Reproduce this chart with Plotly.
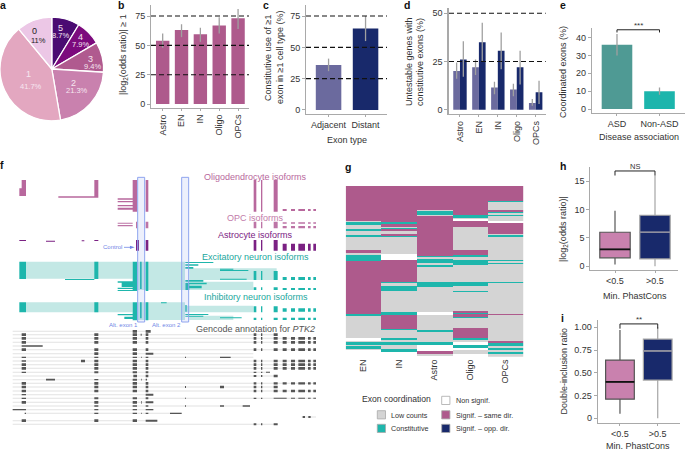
import plotly.graph_objects as go

W, H = 685, 450
FONT = "Liberation Sans"
TXT = "#333333"
AX = "#a9a9a9"
ERR = "#a0a0a0"
SAME = "#ae5a8c"
LOW = "#d4d4d4"
CONST = "#1eb6ac"
NAVY = "#18296b"
SLATE = "#6b6a9e"
LTPINK = "#c981ae"

# a
pie_labels = ["5", "4", "3", "2", "1", "0"]
pie_values = [8.7, 7.9, 9.4, 21.3, 41.7, 11]
pie_text = ["8.7%", "7.9%", "9.4%", "21.3%", "41.7%", "11%"]
pie_colors = ["#4a0b72", "#7c0a7d", "#b05a8f", "#c981ae", "#e3a7c0", "#ecc7e6"]
# b
cells = ["Astro", "EN", "IN", "Oligo", "OPCs"]
b_vals = [54, 63, 59.5, 67, 73]
b_low = [48, 57, 53, 60, 64]
b_high = [60, 68, 65, 74, 81]
# c
c_cats = ["Adjacent", "Distant"]
c_vals = [36, 65]
c_low = [31, 55]
c_high = [41, 75]
# d
d_adj = [20, 22, 11.5, 10.5, 3.5]
d_adj_low = [16, 18, 8, 7, 2]
d_adj_high = [24.5, 26, 14.5, 13.5, 5.5]
d_dist = [26, 35, 30.5, 22, 9]
d_dist_low = [17, 25, 21, 13, 3]
d_dist_high = [35.5, 45, 40, 30.5, 15]
# e
e_cats = ["ASD", "Non-ASD"]
e_vals = [36, 10]
e_low = [30, 8]
e_high = [42, 12]
# h, i boxes: [low whisker, q1, median, q3, high whisker]
box_cats = ["<0.5", ">0.5"]
h_lo = [0.3, 0.0]
h_q1 = [1.5, 1.3]
h_med = [3, 6]
h_q3 = [6, 9]
h_hi = [9.8, 16]
i_lo = [0.05, 0.0]
i_q1 = [0.21, 0.42]
i_med = [0.40, 0.74]
i_q3 = [0.64, 0.87]
i_hi = [0.97, 1.0]

# g: ordered exons, run ends per cell type
g_cols = ["EN", "IN", "Astro", "Oligo", "OPCs"]
g_rows = 256
EN_ends = [52,54,58,64,67,74,76,96,100,104,112,192,194,228,232,234,238,240,244,246,256]
EN_codes = "SLCLCLCLSLCSCLWLCLCLW"
IN_ends = [54,57,61,63,65,67,72,75,77,102,111,143,145,149,157,189,193,214,216,227,231,234,238,244,248,256]
IN_codes = "SCSLCSLSCLWSCLCLCSCLCLCLCW"
ASTRO_ends = [36,38,43,45,105,107,110,115,119,122,143,151,189,193,215,218,233,238,247,251,254,256]
ASTRO_codes = "SLCLSCLCLCLCLWLCLCWSLW"
OLIGO_ends = [44,48,50,52,62,96,104,107,111,119,143,149,157,159,187,190,192,196,198,213,228,231,234,238,243,246,252,256]
OLIGO_codes = "SCLWSLSCLCLCLCLSCSCLSCLWCWLW"
OPC_ends = [22,24,36,39,41,43,45,53,56,72,74,76,111,113,115,117,143,145,191,193,232,235,239,242,245,248,252,256]
OPC_codes = "SCLSCLCLWSLCLCLCLCLSLSCLCLCL"

# f: exon columns along the gene (zoomed genomic units)
E_RA = [(761, 769), (783, 787), (821, 833)]
E_RB = [(848, 860), (873, 885), (895, 915), (924, 932), (940, 948)]
E_R = E_RA + E_RB

gencode_rows = [
    (79, 38, 452, [(398,411,8),(437,452,8)]),
    (89, 38, 833, [(65,78,8),(283,295,8),(398,411,8),(422,425,6),(437,445,8)] + [(a,b,8) for a,b in E_RA]),
    (100, 38, 948, [(65,78,8),(283,295,8),(398,411,8),(437,445,8)] + [(a,b,8) for a,b in E_R]),
    (112, 38, 948, [(65,78,8),(283,295,8),(398,411,8),(437,445,8)] + [(a,b,8) for a,b in E_R]),
    (123, 38, 128, [(65,128,4)]),
    (134, 38, 948, [(65,78,8),(283,295,8),(398,411,8),(437,445,8)] + [(a,b,8) for a,b in E_R]),
    (146, 38, 760, [(283,295,8),(398,411,8),(437,460,6)]),
    (157, 38, 760, [(65,78,4),(283,295,4),(398,411,4),(423,425,4),(437,445,4),(555,558,4),(660,692,4)]),
    (168, 38, 948, [(65,78,5),(243,255,8),(283,295,8),(398,411,8),(437,445,8)] + [(a,b,8) for a,b in E_R]),
    (179, 38, 948, [(65,78,8),(283,295,8),(398,411,8),(437,445,8)] + [(a,b,8) for a,b in E_R]),
    (190, 38, 948, [(65,78,8),(283,295,8),(398,411,8),(437,445,8)] + [(a,b,8) for a,b in E_R]),
    (202, 38, 810, [(65,78,4),(283,295,6),(398,411,6),(437,445,6),(761,769,4),(783,787,4),(798,810,3)]),
    (213, 38, 833, [(400,411,8),(437,445,8),(761,769,6),(783,787,6),(821,833,8)]),
    (224, 38, 445, [(138,165,5),(283,295,4),(398,411,6),(423,425,5),(437,441,5)]),
    (235, 38, 948, [(65,78,8),(283,295,8),(398,411,8),(437,445,8)] + [(a,b,7) for a,b in E_R]),
    (246, 38, 833, [(65,78,8),(283,295,8),(398,411,8),(437,445,8),(555,558,6),(660,672,7),(761,769,8),(783,787,8),(821,833,8)]),
    (258, 38, 948, [(65,78,8),(283,295,8),(398,411,8),(437,445,8)] + [(a,b,7) for a,b in E_R]),
    (269, 38, 460, [(65,78,4),(437,460,6)]),
    (280, 38, 948, [(65,78,4),(283,295,6),(398,411,6),(437,445,6),(555,558,3),(761,769,4),(783,787,4),(821,860,3),(873,885,3),(895,915,3),(924,932,3),(940,948,3)]),
    (292, 38, 460, [(65,78,8),(283,295,8),(398,411,8),(423,425,8),(437,460,6)]),
    (303, 38, 750, [(283,295,4),(398,411,4),(437,445,4),(555,558,4),(660,672,4),(728,750,4)]),
    (314, 38, 460, [(38,78,4),(283,295,4),(398,411,4),(437,460,4)]),
    (325, 75, 545, [(74,78,4),(283,295,4),(398,411,4),(423,425,4),(437,445,4),(510,545,4)]),
    (336, 905, 948, [(908,915,6),(925,932,6)]),
    (347, 38, 472, [(65,78,8),(283,295,8),(398,411,8),(437,472,6)]),
    (358, 38, 833, [(761,769,6),(783,787,6),(821,833,6)]),
]


def row(spans, y0, y1):
    return [(a, b, y0, y1) for a, b in spans]


oligo_rects = (
    [(65,78,45,70),(58,78,70,93),(38,58,75,77),(283,295,45,98),(175,283,94,98),(398,411,45,140),
     (437,445,45,140),(353,398,100,104),(353,398,108,112),(353,398,120,124),(353,398,128,134),
     (330,353,108,110),(330,353,117,119),(660,672,93,95),(660,672,98,100)]
    + row(E_RA, 45, 140) + row(E_RB, 99, 101) + row(E_RB, 132, 138)
)
opc_rects = (
    [(353,398,173,176),(353,398,180,184),(408,411,170,190),(437,445,170,190)]
    + row(E_RA, 170, 190) + row(E_RB, 172, 176) + row(E_RB, 183, 190)
)
astro_rects = (
    [(58,78,225,228),(138,165,227,230),(245,253,226,229),(283,295,225,228),(330,408,231,233),
     (408,417,225,257),(437,445,225,257)]
    + row(E_RA, 225, 257) + row(E_RB, 236, 257)
)
exc_light = [(78,398,290,341),(411,555,290,375),(568,830,310,345),(568,760,350,375)]
exc_rects = (
    [(38,58,303,305),(58,78,290,342),(283,295,290,342),(195,283,342,345),(398,411,290,378),
     (420,425,290,372),(437,445,290,378),(353,398,349,353),(365,398,353,366),(353,398,368,372),
     (353,398,375,378),(556,640,291,294),(556,595,298,302),(556,580,306,311),(556,610,345,350),
     (556,620,353,358),(556,568,358,375),(568,605,362,370),(660,700,311,314),(660,745,315,318),(660,740,341,344)]
    + row(E_RA, 318, 345) + row(E_RB, 336, 345) + row(E_RA, 367, 375) + row(E_RB, 369, 375)
)
inh_light = [(78,398,412,442),(411,555,412,465),(556,760,422,442),(568,700,452,465)]
inh_rects = (
    [(58,78,412,442),(283,295,412,442),(398,411,412,466),(420,425,412,460),(437,445,412,466),
     (483,500,412,415),(353,398,447,451),(373,398,455,462),(556,625,447,450),(556,610,452,455),
     (660,725,457,460),(556,560,420,440)]
    + row(E_RA, 424, 442) + row(E_RB, 430, 440) + row(E_RA, 458, 465) + row(E_RB, 458, 465)
)
alt_boxes = [(413, 434, 37, 471), (545, 566, 37, 471)]


def px(x0, x1, ytop, ybot):
    return dict(domain=[x0 / W, x1 / W]), dict(domain=[1 - ybot / H, 1 - ytop / H])


def note(x, y, text, size=9, color=TXT, angle=0, xanchor="center", bold=False):
    return dict(x=x / W, y=1 - y / H, xref="paper", yref="paper", text=f"<b>{text}</b>" if bold else text,
                showarrow=False, textangle=angle, xanchor=xanchor, yanchor="middle",
                font=dict(family=FONT, size=size, color=color))


fig = go.Figure()
layout = dict(width=W, height=H, autosize=False, margin=dict(l=0, r=0, t=0, b=0),
              paper_bgcolor="white", plot_bgcolor="white", showlegend=False,
              font=dict(family=FONT, size=9, color=TXT))
annots, shapes = [], []
axis_count = [0]


def new_axes(x0, x1, ytop, ybot, xrange, yrange, xticks=None, xlabels=None, yticks=None, ylabels=None,
             xangle=0, visible=True, yline=1):
    axis_count[0] += 1
    n = axis_count[0]
    xd, yd = px(x0, x1, ytop, ybot)
    sx = "" if n == 1 else str(n)
    xa = dict(xd, range=xrange, anchor="y" + sx, showgrid=False, zeroline=False, fixedrange=True,
              showline=visible, linecolor=AX, linewidth=1, ticks="outside" if visible else "",
              ticklen=2, tickcolor=AX, tickvals=xticks, ticktext=xlabels, tickangle=xangle,
              showticklabels=visible, tickfont=dict(family=FONT, size=9, color=TXT))
    ya = dict(yd, range=yrange, anchor="x" + sx, showgrid=False, zeroline=False, fixedrange=True,
              showline=visible, linecolor=AX, linewidth=yline, ticks="outside" if visible else "",
              ticklen=3, tickcolor=AX, tickvals=yticks, ticktext=ylabels,
              showticklabels=visible, tickfont=dict(family=FONT, size=9, color=TXT))
    layout["xaxis" + sx] = xa
    layout["yaxis" + sx] = ya
    return "x" + sx, "y" + sx


def errs(vals, lows, highs):
    return dict(type="data", symmetric=False,
                array=[h - v for h, v in zip(highs, vals)],
                arrayminus=[v - l for l, v in zip(lows, vals)],
                color=ERR, thickness=1.3, width=0)


def dashed(xa, ya, levels):
    for lv in levels:
        shapes.append(dict(type="line", xref=xa + " domain", yref=ya, x0=0, x1=1, y0=lv, y1=lv, layer="above",
                           line=dict(color="#111111", width=1.1, dash="5px,3px")))


def bracket(xa, ya, x0, x1, ytop, ydrop, label, lab_x, lab_y, size=8):
    fig.add_trace(go.Scatter(x=[x0, x0, x1, x1], y=[ydrop, ytop, ytop, ydrop], mode="lines", xaxis=xa, yaxis=ya,
                             line=dict(color="#222222", width=1), hoverinfo="skip"))
    annots.append(note(lab_x, lab_y, label, size=size))


# panel a
fig.add_trace(go.Pie(labels=pie_labels, values=pie_values, sort=False, direction="clockwise", rotation=0,
                     textinfo="none", marker=dict(colors=pie_colors, line=dict(color="white", width=1.3)),
                     domain=dict(x=[0, 103.6 / W], y=[1 - 120.8 / H, 1 - 17.2 / H]), hoverinfo="skip"))
pie_num_pos = [(60.5, 27.5), (80.3, 37), (90.7, 58.5), (73.5, 82.5), (28, 74), (34, 30.5)]
pie_pct_pos = [(60.5, 35.5), (80.3, 44.5), (92.5, 66.5), (76.5, 90.5), (30.5, 86), (38.5, 40)]
for i, (lab, pct) in enumerate(zip(pie_labels, pie_text)):
    col = "#222222" if lab == "0" else "#f6e6f0"
    annots.append(note(*pie_num_pos[i], lab, size=9, color=col))
    annots.append(note(*pie_pct_pos[i], pct, size=7.5, color=col))

# panel b
xa, ya = new_axes(151, 249, 5, 108, [-0.62, 4.58], [-3.4, 84.4], list(range(5)), cells, [0, 25, 50, 75],
                  ["0", "25", "50", "75"], xangle=-90)
fig.add_trace(go.Bar(x=list(range(5)), y=b_vals, width=0.71, marker=dict(color=SAME, line=dict(width=0)), xaxis=xa, yaxis=ya,
                     error_y=errs(b_vals, b_low, b_high), hoverinfo="skip"))
dashed(xa, ya, [25, 50, 75])
annots.append(note(123, 55, "|log<sub>2</sub>(odds ratio)| ≥ 1", angle=-90))

# panel c
xa, ya = new_axes(306, 387, 5, 114, [-0.61, 1.58], [-3.2, 83.8], [0, 1], c_cats, [0, 25, 50, 75],
                  ["0", "25", "50", "75"])
fig.add_trace(go.Bar(x=[0, 1], y=c_vals, width=0.69, marker=dict(color=[SLATE, NAVY], line=dict(width=0)), xaxis=xa, yaxis=ya,
                     error_y=errs(c_vals, c_low, c_high), hoverinfo="skip"))
dashed(xa, ya, [25, 50, 75])
annots.append(note(268, 58, "Constitutive use of ≥1", angle=-90))
annots.append(note(280, 58, "exon in ≥1 cell type (%)", angle=-90))
annots.append(note(347, 139.5, "Exon type"))

# panel d
xa, ya = new_axes(449, 545.7, 8, 114.3, [-0.58, 4.53], [-2.4, 52.7], list(range(5)), cells, [0, 25, 50],
                  ["0", "25", "50"], xangle=-90, yline=1.6)
layout["bargap"] = 0.29
layout["bargroupgap"] = 0
layout["barmode"] = "group"
fig.add_trace(go.Bar(x=list(range(5)), y=d_adj, name="Adjacent", marker=dict(color=SLATE, line=dict(width=0)), xaxis=xa, yaxis=ya,
                     error_y=errs(d_adj, d_adj_low, d_adj_high), hoverinfo="skip"))
fig.add_trace(go.Bar(x=list(range(5)), y=d_dist, name="Distant", marker=dict(color=NAVY, line=dict(width=0)), xaxis=xa, yaxis=ya,
                     error_y=errs(d_dist, d_dist_low, d_dist_high), hoverinfo="skip"))
dashed(xa, ya, [25, 50])
annots.append(note(409, 62, "Untestable genes with", angle=-90))
annots.append(note(420, 62, "constitutive exons (%)", angle=-90))

# panel e
xa, ya = new_axes(591.7, 685, 28, 113.3, [-0.595, 1.6], [-2.4, 45.4], [0, 1], e_cats, [0, 10, 20, 30, 40],
                  ["0", "10", "20", "30", "40"])
fig.add_trace(go.Bar(x=[0, 1], y=e_vals, width=0.72, marker=dict(color=["#4f9a94", "#1cb5ac"], line=dict(width=0)), xaxis=xa, yaxis=ya,
                     error_y=errs(e_vals, e_low, e_high), hoverinfo="skip"))
bracket(xa, ya, 0, 1, 44.4, 42.9, "***", 638, 25)
annots.append(note(563, 72, "Coordinated exons (%)", angle=-90))
annots.append(note(639, 137, "Disease association"))

# panel f
xa, ya = new_axes(0, 320, 165, 450, [0, 960], [855, 0], visible=False)


def add_rects(rects, color):
    xs, ys = [], []
    for a, b, c, d in rects:
        xs += [a, b, b, a, a, None]
        ys += [c, c, d, d, c, None]
    fig.add_trace(go.Scatter(x=xs, y=ys, mode="lines", line=dict(width=0, color=color), fill="toself",
                             fillcolor=color, xaxis=xa, yaxis=ya, hoverinfo="skip"))


add_rects(oligo_rects, "#b8689d")
add_rects(opc_rects, "#bd74a6")
add_rects([(42,78,170,172),(283,295,170,172)], "#e6c8da")
add_rects(astro_rects, "#7b2183")
add_rects(exc_light, "#c3e8e5")
add_rects(exc_rects, "#1eb6ac")
add_rects(inh_light, "#c3e8e5")
add_rects(inh_rects, "#1eb6ac")
OFFSET = 420
line_rects, exon_rects = [], []
for y, a, b, exons in gencode_rows:
    line_rects.append((a, b, OFFSET + y - 1.5, OFFSET + y + 1.5))
    for ea, eb, h in exons:
        exon_rects.append((ea, eb, OFFSET + y - h / 2, OFFSET + y + h / 2))
add_rects(line_rects, "#e2e2e2")
add_rects(exon_rects, "#555555")
for a, b, c, d in alt_boxes:
    fig.add_trace(go.Scatter(x=[a, b, b, a, a], y=[c, c, d, d, c], mode="lines", line=dict(color="#8fa4ef", width=1),
                             fill="toself", fillcolor="rgba(143,164,239,0.16)", xaxis=xa, yaxis=ya, hoverinfo="skip"))
fig.add_trace(go.Scatter(x=[372, 404], y=[247, 247], mode="lines+markers", xaxis=xa, yaxis=ya, hoverinfo="skip",
                         line=dict(color="#6f86e6", width=0.8),
                         marker=dict(symbol="arrow", size=5, angleref="previous", color="#6f86e6", opacity=[0, 1])))
annots.append(note(113, 247 / 3 + 165, "Control", size=6, color="#6f86e6"))
annots.append(note(123.7, 324.5, "Alt. exon 1", size=6, color="#6f86e6"))
annots.append(note(166.8, 324.5, "Alt. exon 2", size=6, color="#6f86e6"))
annots.append(note(255.5, 177, "Oligodendrocyte isoforms", color="#b8689d"))
annots.append(note(255, 217.5, "OPC isoforms", color="#c27aa9"))
annots.append(note(255, 235, "Astrocyte isoforms", color="#7b2183"))
annots.append(note(255, 256.5, "Excitatory neuron isoforms", color="#1ba79e"))
annots.append(note(255.5, 297, "Inhibitory neuron isoforms", color="#1ba79e"))
annots.append(note(255.5, 328.5, "Gencode annotation for <i>PTK2</i>", color="#555555"))

# panel g
code_num = {"W": 0, "L": 1, "C": 2, "S": 3}
g_runs = [(EN_ends, EN_codes), (IN_ends, IN_codes), (ASTRO_ends, ASTRO_codes), (OLIGO_ends, OLIGO_codes), (OPC_ends, OPC_codes)]
g_z = [[0] * len(g_cols) for _ in range(g_rows)]
for c, (ends, codes) in enumerate(g_runs):
    start = 0
    for e, code in zip(ends, codes):
        for r in range(start, e):
            g_z[r][c] = code_num[code]
        start = e
axis_count[0] += 1
n = axis_count[0]
xd, yd = px(345.7, 523.3, 186, 356.7)
layout[f"xaxis{n}"] = dict(xd, anchor=f"y{n}", showline=False, showgrid=False, zeroline=False, tickangle=-90, ticklen=0,
                           ticks="", tickfont=dict(family=FONT, size=9, color=TXT), fixedrange=True)
layout[f"yaxis{n}"] = dict(yd, anchor=f"x{n}", range=[g_rows - 0.5, -0.5], visible=False, fixedrange=True)
fig.add_trace(go.Heatmap(z=g_z, x=g_cols, y=list(range(g_rows)), zmin=0, zmax=3, showscale=False, xaxis=f"x{n}", yaxis=f"y{n}",
                         hoverinfo="skip",
                         colorscale=[[0, "white"], [0.25, "white"], [0.25, LOW], [0.5, LOW], [0.5, CONST], [0.75, CONST], [0.75, SAME], [1, SAME]]))
annots.append(note(396.7, 399, "Exon coordination", size=8.6))
legend_items = [(441.7, 396.3, "white", "Non signif."), (377.3, 410.7, LOW, "Low counts"), (441.7, 410.7, SAME, "Signif. – same dir."),
                (377.3, 424.3, CONST, "Constitutive"), (441.7, 424.3, NAVY, "Signif. – opp. dir.")]
for x, y, col, lab in legend_items:
    shapes.append(dict(type="rect", xref="paper", yref="paper", x0=x / W, x1=(x + 8.2) / W, y0=1 - y / H, y1=1 - (y + 8.2) / H,
                       fillcolor=col, line=dict(color="#a8a8a8", width=0.8)))
    annots.append(note(x + 12, y + 4.3, lab, size=7.2, xanchor="left"))


# panels h, i
def boxes(xa, ya, lo, q1, med, q3, hi, width):
    styles = [(LTPINK, "#555555"), (NAVY, "#a5a5a5")]
    med_cols = ["#111111", "#8f8f9f"]
    med_w = [1.8, 1.5]
    for k in range(2):
        fig.add_trace(go.Box(x=[k], q1=[q1[k]], median=[med[k]], q3=[q3[k]], lowerfence=[lo[k]], upperfence=[hi[k]],
                             width=width, whiskerwidth=0, fillcolor=styles[k][0], line=dict(color=styles[k][1], width=1.2),
                             boxpoints=False, xaxis=xa, yaxis=ya, hoverinfo="skip"))
        fig.add_trace(go.Scatter(x=[k - width / 2, k + width / 2], y=[med[k], med[k]], mode="lines", xaxis=xa, yaxis=ya,
                                 line=dict(color=med_cols[k], width=med_w[k]), hoverinfo="skip"))


xa, ya = new_axes(590.3, 678, 167, 270.3, [-0.6175, 1.575], [-0.7, 17.5], [0, 1], box_cats, [0, 5, 10, 15],
                  ["0", "5", "10", "15"])
boxes(xa, ya, h_lo, h_q1, h_med, h_q3, h_hi, 0.76)
bracket(xa, ya, 0, 1, 16.8, 16.0, "NS", 635, 166.8, size=7.5)
annots.append(note(564, 229, "|log<sub>2</sub>(odds ratio)|", angle=-90))
annots.append(note(635, 295.5, "Min. PhastCons"))

xa, ya = new_axes(597.7, 680, 320, 422.7, [-0.59, 1.59], [-0.048, 1.08], [0, 1], box_cats, [0, 0.25, 0.5, 0.75, 1],
                  ["0", "0.25", "0.50", "0.75", "1.00"])
boxes(xa, ya, i_lo, i_q1, i_med, i_q3, i_hi, 0.76)
bracket(xa, ya, 0, 1, 1.037, 0.985, "**", 639, 319)
annots.append(note(563.5, 371, "Double-inclusion ratio", angle=-90))
annots.append(note(638, 445.5, "Min. PhastCons"))

# panel letters
for lab, x, y in [("a", 3, 5), ("b", 121, 5), ("c", 266, 5), ("d", 407, 5), ("e", 563, 5), ("f", 2, 165),
                  ("g", 348, 167), ("h", 563, 166), ("i", 562, 318)]:
    annots.append(note(x, y, lab, size=10.5, color="#111111", bold=True))

layout["annotations"] = annots
layout["shapes"] = shapes
fig.update_layout(**layout)
fig.write_html("out.html", config=dict(displayModeBar=False),
               post_script="document.body.style.margin='0';document.documentElement.style.overflow='hidden';")
